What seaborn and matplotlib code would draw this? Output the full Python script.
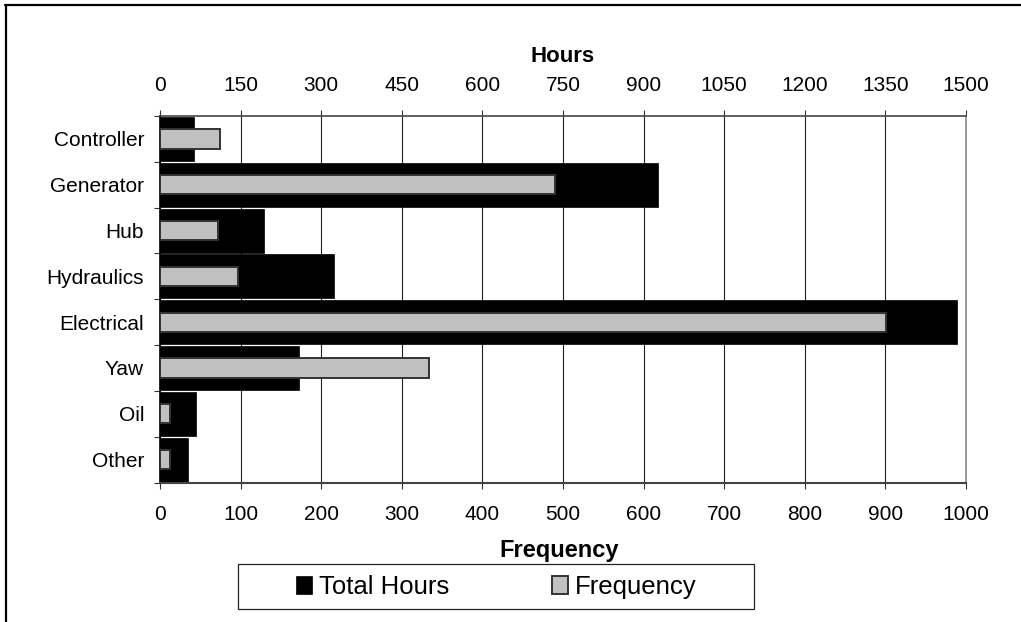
import numpy as np
import pandas as pd
import matplotlib
matplotlib.use("Agg")
import matplotlib.pyplot as plt
import seaborn as sns
from matplotlib.patches import Rectangle, Patch
from matplotlib.lines import Line2D

# ---- data ----
categories = ["Controller", "Generator", "Hub", "Hydraulics", "Electrical", "Yaw", "Oil", "Other"]
total_hours = [64, 927, 194, 323, 1483, 258, 67, 53]
frequency = [75, 490, 72, 97, 901, 334, 12, 12]
hours_ticks = [0, 150, 300, 450, 600, 750, 900, 1050, 1200, 1350, 1500]
freq_ticks = [0, 100, 200, 300, 400, 500, 600, 700, 800, 900, 1000]
legend_labels = ["Total Hours", "Frequency"]

sns.set_theme(style="white")
plt.rcParams["font.family"] = ["Liberation Sans", "DejaVu Sans"]
plt.rcParams["text.color"] = "black"

W, H = 1021, 622
fig = plt.figure(figsize=(W / 100, H / 100), dpi=100)
ax = fig.add_axes([160 / W, 1 - 482.5 / H, 806 / W, 366.5 / H])

df = pd.DataFrame({"category": categories, "hours": total_hours, "freq": frequency})

sns.barplot(data=df, x="hours", y="category", ax=ax, color="black", saturation=1,
            width=0.96, edgecolor="black", linewidth=0.5, orient="h")
ax2 = ax.twiny()
sns.barplot(data=df, x="freq", y="category", ax=ax2, color="#c0c0c0", saturation=1,
            width=0.42, edgecolor="#333333", linewidth=1.4, orient="h")

ax.set_xlim(0, 1500)
ax2.set_xlim(0, 1000)
ax.set_ylim(7.5, -0.5)

ax.xaxis.tick_top()
ax2.xaxis.tick_bottom()
ax.set_xticks(hours_ticks)
ax2.set_xticks(freq_ticks)
ax.set_xticklabels([str(t) for t in hours_ticks])
ax2.set_xticklabels([str(t) for t in freq_ticks])

ax.tick_params(axis="x", which="major", top=True, bottom=False, labeltop=True, labelbottom=False,
               length=4.5, width=0.8, color="#333333", pad=10.5, labelsize=15, labelcolor="black")
ax2.tick_params(axis="x", which="major", top=False, bottom=True, labeltop=False, labelbottom=True,
                length=4.5, width=0.8, color="#333333", pad=11.5, labelsize=15, labelcolor="black")

ax.set_yticks(range(len(categories)))
ax.set_yticklabels(categories)
ax.set_yticks(np.arange(-0.5, len(categories)), minor=True)
ax.tick_params(axis="y", which="major", left=True, length=0, pad=11.5, labelsize=15, labelcolor="black")
ax.tick_params(axis="y", which="minor", left=True, length=4.5, width=0.8, color="#333333")

ax.grid(axis="x", color="#222222", linewidth=0.8)
ax.grid(axis="y", visible=False)
ax2.grid(False)
ax.set_axisbelow(True)

for a in (ax, ax2):
    a.set_xlabel("")
    a.set_ylabel("")
    for s in a.spines.values():
        s.set_visible(False)

ax.spines["left"].set_visible(True)
ax.spines["left"].set_color("black")
ax.spines["left"].set_linewidth(1.2)
ax.spines["top"].set_visible(True)
ax.spines["top"].set_color("#444444")
ax.spines["top"].set_linewidth(1.2)
ax.spines["bottom"].set_visible(True)
ax.spines["bottom"].set_color("#444444")
ax.spines["bottom"].set_linewidth(1.5)
ax.spines["right"].set_visible(True)
ax.spines["right"].set_color("#888888")
ax.spines["right"].set_linewidth(1.2)

# axis titles
fig.text(563 / W, 1 - 56 / H, "Hours", ha="center", va="center", fontsize=16,
         fontweight="bold", color="black")
fig.text(559 / W, 1 - 550 / H, "Frequency", ha="center", va="center", fontsize=17,
         fontweight="bold", color="black")

# legend
handles = [Patch(facecolor="black", edgecolor="black", linewidth=0.5),
           Patch(facecolor="#c0c0c0", edgecolor="#333333", linewidth=1.4)]
leg = fig.legend(handles, legend_labels, loc="center", bbox_to_anchor=(496 / W, 1 - 587 / H),
                 ncol=2, frameon=False, fontsize=18.5, handlelength=0.65, handleheight=0.65,
                 handletextpad=0.25, columnspacing=4.0)
for t in leg.get_texts():
    t.set_color("black")
fig.add_artist(Rectangle((238 / W, 1 - 609 / H), 516 / W, 45 / H, transform=fig.transFigure,
                         fill=False, edgecolor="#222222", linewidth=0.9))

# outer frame (top and left edges)
fig.add_artist(Line2D([5 / W, 1], [1 - 5 / H, 1 - 5 / H], transform=fig.transFigure,
                      color="black", linewidth=1.6))
fig.add_artist(Line2D([6 / W, 6 / W], [0, 1 - 5 / H], transform=fig.transFigure,
                      color="black", linewidth=1.6))

fig.savefig("out.png", dpi=100)
